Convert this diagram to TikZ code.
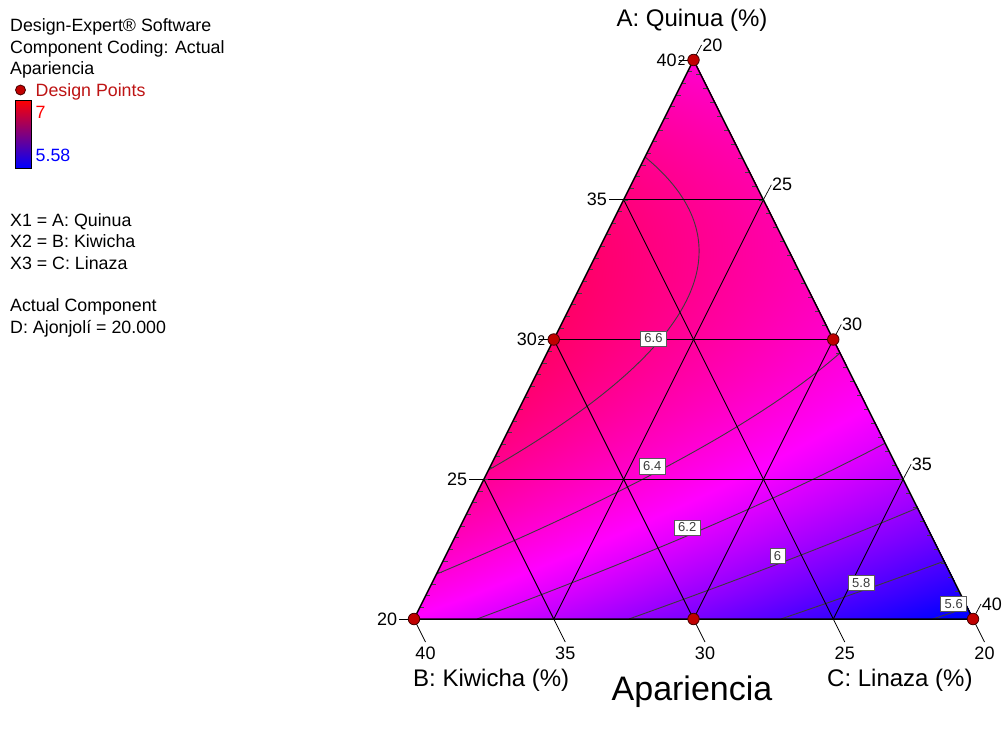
\documentclass[tikz,border=0pt]{standalone}
\usepackage{fontspec}
\setmainfont{Liberation Sans}
\usepackage{pgfplots}
\pgfplotsset{compat=1.18}
\usetikzlibrary{calc}

\definecolor{dpred}{RGB}{192,0,0}
\definecolor{dpedge}{RGB}{70,0,0}
\definecolor{legred}{RGB}{190,20,20}
\definecolor{isogray}{RGB}{60,60,60}

\begin{document}
\begin{tikzpicture}
\useasboundingbox (0pt,0pt) rectangle (1005pt,-731pt);
\fill[white] (0pt,0pt) rectangle (1005pt,-731pt);

% response surface: quadratic mixture model, a = Quinua pseudo fraction (y), u along the row (x)
\begin{axis}[at={(0pt,-731pt)}, anchor=south west, view={0}{90},
  scale only axis, width=1005pt, height=731pt,
  xmin=0, xmax=1005, ymin=0, ymax=731, enlargelimits=false, hide axis,
  colormap={dex}{rgb255=(0,0,255) rgb255=(255,0,255) rgb255=(255,0,0)},
  point meta min=5.58, point meta max=7]
\addplot3[surf, shader=interp, samples=45, domain=0:1, y domain=0:1, point meta=z]
  ({414+559*(x*(1-y)+y/2)}, {112+559*y},
   {6.417*y+6.283*(1-y)+1.439*y*(1-y)+(-0.736+0.321*y)*x*(1-y)});
\end{axis}

\begin{scope}[x=1pt, y=-1pt,
  gridline/.style={line width=0.9pt, draw=black},
  isoline/.style={line width=0.9pt, draw=isogray},
  minortick/.style={line width=0.5pt, draw=black!75},
  axtick/.style={line width=0.7pt, draw=black},
  ticklab/.style={font=\fontsize{18}{20}\selectfont, inner sep=0pt},
  replab/.style={font=\fontsize{14}{15}\selectfont, inner sep=0pt},
  clabel/.style={draw=black!65, fill=white, line width=0.7pt, text=isogray,
    font=\fontsize{13}{14}\selectfont, inner xsep=4pt, inner ysep=3pt},
  dpt/.style={circle, minimum size=11.5pt, inner sep=0pt, fill=dpred, draw=dpedge, line width=0.8pt},
  legend/.style={font=\fontsize{17.8}{20}\selectfont, inner sep=0pt, anchor=base west},
  axtitle/.style={font=\fontsize{24}{26}\selectfont, inner sep=0pt, anchor=base},
  declare function={
    vK(\a)=6.417*\a+6.283*(1-\a)+1.439*\a*(1-\a);
    vM(\a)=-0.736+0.321*\a;
    cx(\a,\L)=414+559*((\L-vK(\a))/vM(\a)+\a/2);
    cy(\a)=619-559*\a;}]

% vertices: A = Quinua (top), B = Kiwicha (left), C = Linaza (right)
\coordinate (VA) at (693.5,60);
\coordinate (VB) at (414,619);
\coordinate (VC) at (973,619);
\path (VB) -- (VA) coordinate[pos=.25] (L25) coordinate[pos=.5] (L30) coordinate[pos=.75] (L35);
\path (VA) -- (VC) coordinate[pos=.25] (R25) coordinate[pos=.5] (R30) coordinate[pos=.75] (R35);
\path (VB) -- (VC) coordinate[pos=.25] (B35) coordinate[pos=.5] (B30) coordinate[pos=.75] (B25);

% contour lines of the fitted model
\begin{scope}
\clip (VA) -- (VB) -- (VC) -- cycle;
\draw[isoline] plot[domain=0.2666:0.8266, samples=90, variable=\a] ({cx(\a,6.6)},{cy(\a)});
\draw[isoline] plot[domain=0.0803:0.4759, samples=60, variable=\a] ({cx(\a,6.4)},{cy(\a)});
\draw[isoline] plot[domain=0:0.3145, samples=50, variable=\a] ({cx(\a,6.2)},{cy(\a)});
\draw[isoline] plot[domain=0:0.1987, samples=40, variable=\a] ({cx(\a,6.0)},{cy(\a)});
\draw[isoline] plot[domain=0:0.1034, samples=30, variable=\a] ({cx(\a,5.8)},{cy(\a)});
\draw[isoline] plot[domain=0:0.0261, samples=10, variable=\a] ({cx(\a,5.6)},{cy(\a)});
\end{scope}

% grid lines
\draw[gridline] (L25) -- (R35) (L30) -- (R30) (L35) -- (R25);
\draw[gridline] (B35) -- (L25) (B30) -- (L30) (B25) -- (L35);
\draw[gridline] (B35) -- (R25) (B30) -- (R30) (B25) -- (R35);

% minor ticks along the inside of the slanted edges
\foreach \i in {1,...,47} \draw[minortick] ($(VB)!\i/48!(VA)$) -- ++(4.5,0);
\foreach \i in {1,...,39} \draw[minortick] ($(VA)!\i/40!(VC)$) -- ++(-4.5,0);

% triangle outline
\draw[line width=1.5pt, line join=miter] (VA) -- (VB) -- (VC) -- cycle;

% contour labels
\node[clabel] (c66) at (653.5,338.5) {6.6};
\node[clabel] (c64) at (652.2,466.3) {6.4};
\node[clabel] (c62) at (687.2,527.5) {6.2};
\node[clabel] (c60) at (777.5,555.8) {6};
\node[clabel] (c58) at (861.2,583) {5.8};
\node[clabel] (c56) at (953.7,604.2) {5.6};

% A axis ticks (left edge)
\draw[axtick] (VB) -- ++(-15,0) node[ticklab, anchor=east, xshift=-1.5] (tA20) {20};
\draw[axtick] (L25) -- ++(-15,0) node[ticklab, anchor=east, xshift=-1.5] (tA25) {25};
\draw[axtick] (L30) -- ++(-15,0) node[ticklab, anchor=east, xshift=-1.5] (tA30) {30};
\draw[axtick] (L35) -- ++(-15,0) node[ticklab, anchor=east, xshift=-1.5] (tA35) {35};
\draw[axtick] (VA) -- ++(-15,0) node[ticklab, anchor=east, xshift=-1.5] (tA40) {40};
\node[replab] (rep1) at ($(VA)+(-12,1)$) {2};
\node[replab] (rep2) at ($(L30)+(-12.5,1)$) {2};

% C axis ticks (right edge)
\draw[axtick] (VA) -- ++(8,-15) node[ticklab, anchor=west, xshift=0.5] (tC20) {20};
\draw[axtick] (R25) -- ++(8,-15) node[ticklab, anchor=west, xshift=0.5] (tC25) {25};
\draw[axtick] (R30) -- ++(8,-15) node[ticklab, anchor=west, xshift=0.5] (tC30) {30};
\draw[axtick] (R35) -- ++(8,-15) node[ticklab, anchor=west, xshift=0.5] (tC35) {35};
\draw[axtick] (VC) -- ++(8,-15) node[ticklab, anchor=west, xshift=0.5] (tC40) {40};

% B axis ticks (bottom edge)
\draw[axtick] (VB) -- ++(11.5,23) node[ticklab, anchor=north, yshift=-5] (tB40) {40};
\draw[axtick] (B35) -- ++(11.5,23) node[ticklab, anchor=north, yshift=-5] (tB35) {35};
\draw[axtick] (B30) -- ++(11.5,23) node[ticklab, anchor=north, yshift=-5] (tB30) {30};
\draw[axtick] (B25) -- ++(11.5,23) node[ticklab, anchor=north, yshift=-5] (tB25) {25};
\draw[axtick] (VC) -- ++(11.5,23) node[ticklab, anchor=north, yshift=-5] (tB20) {20};

% design points
\node[dpt] (d1) at (VA) {};
\node[dpt] (d2) at (L30) {};
\node[dpt] (d3) at (VB) {};
\node[dpt] (d4) at (B30) {};
\node[dpt] (d5) at (VC) {};
\node[dpt] (d6) at (R30) {};

% axis titles
\node[axtitle] (ttlA) at (692,26) {A: Quinua (\%)};
\node[axtitle, anchor=base west] (ttlB) at (413,686) {B: Kiwicha (\%)};
\node[axtitle, anchor=base west] (ttlC) at (827,686) {C: Linaza (\%)};
\node[font=\fontsize{34}{36}\selectfont, inner sep=0pt, anchor=base] (ttl) at (692,700) {Apariencia};

% legend
\node[legend] (lg1) at (10,31) {Design-Expert® Software};
\node[legend] (lg2) at (10,53) {Component Coding: Actual};
\node[legend] (lg3) at (10,74.5) {Apariencia};
\node[dpt, minimum size=10pt] (lgdot) at (20.5,90) {};
\node[legend, text=legred] (lg4) at (35.5,96) {Design Points};
\shade[top color=red, bottom color=blue] (15,100) rectangle (31,168);
\draw[line width=1pt] (15,100) rectangle (31,168);
\node[legend, text=red] (lgmax) at (35.5,118) {7};
\node[legend, text=blue] (lgmin) at (35.5,161) {5.58};
\node[legend] (lg5) at (10,226) {X1 = A: Quinua};
\node[legend] (lg6) at (10,247.5) {X2 = B: Kiwicha};
\node[legend] (lg7) at (10,269) {X3 = C: Linaza};
\node[legend] (lg8) at (10,311.5) {Actual Component};
\node[legend] (lg9) at (10,333) {D: Ajonjolí = 20.000};
\end{scope}
\end{tikzpicture}
\end{document}
